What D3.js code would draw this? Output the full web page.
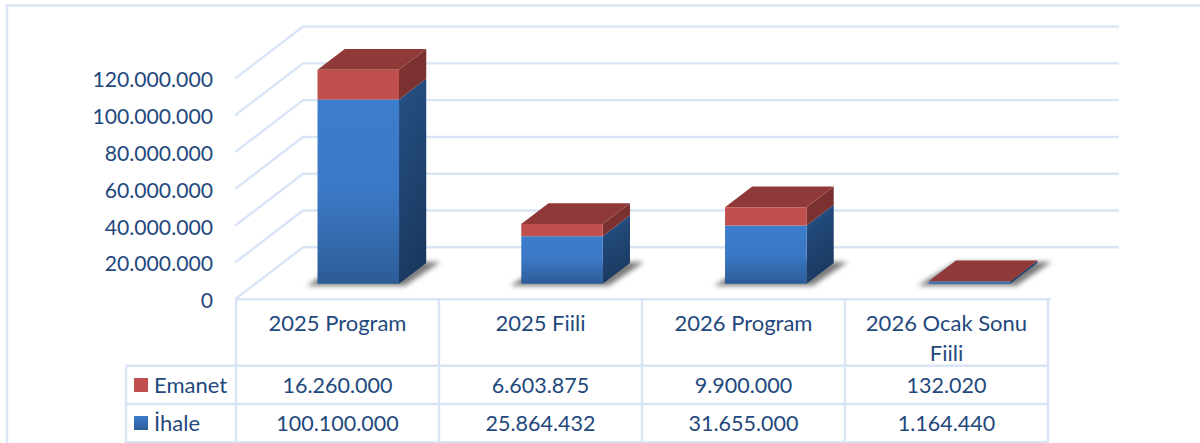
<!DOCTYPE html>
<html>
<head>
<meta charset="utf-8">
<script src="https://cdn.jsdelivr.net/npm/d3@7"></script>
<style>
html, body { margin: 0; padding: 0; background: #fff; overflow: hidden; }
text { font-family: Lato, sans-serif; fill: #1f497d; }
</style>
</head>
<body>
<div id="chart"></div>
<script>
var categories = [["2025 Program"], ["2025 Fiili"], ["2026 Program"], ["2026 Ocak Sonu", "Fiili"]];
var emanet = [16260000, 6603875, 9900000, 132020];
var ihale = [100100000, 25864432, 31655000, 1164440];
var yTicks = [0, 20000000, 40000000, 60000000, 80000000, 100000000, 120000000];

var w = 1200;
var h = 443;
var gridColor = "#d9e5f6";

// layout of the 3d box
var left = 236, right = 1051, tableRight = 1048, floorY = 299.3, topY = 78.6;
var depthX = 68, depthY = 52;

var svg = d3.select("#chart")
    .append("svg")
    .attr("width", w)
    .attr("height", h);

var fmt = d3.formatLocale({ decimal: ",", thousands: ".", grouping: [3], currency: ["", ""] }).format(",d");

// bars sit on the floor, the table below is a little narrower
var xscale = d3.scaleBand()
    .domain(d3.range(categories.length))
    .range([left, right]);

var tablescale = d3.scaleBand()
    .domain(d3.range(categories.length))
    .range([left, tableRight]);

var yscale = d3.scaleLinear()
    .domain([0, 120000000])
    .range([floorY, topY]);

// cx = share of band across, v = value, dz = share of depth
function pt(i, cx, v, dz) {
    return [xscale(i) + cx * xscale.bandwidth() + dz * depthX, yscale(v) - dz * depthY];
}
function poly(points) {
    return points.map(function (p) { return p[0] + "," + p[1]; }).join(" ");
}

var defs = svg.append("defs");

function gradient(id, x2, y2, stops) {
    var g = defs.append("linearGradient").attr("id", id)
        .attr("x1", 0).attr("y1", 0).attr("x2", x2).attr("y2", y2);
    stops.forEach(function (s, k) {
        g.append("stop").attr("offset", k / (stops.length - 1)).attr("stop-color", s);
    });
}
gradient("blueFront", 0, 1, ["#3d7dcd", "#3b78c5", "#2c5c97"]);
gradient("blueSide", 0.3, 1, ["#265286", "#1a3960"]);
gradient("swatchBlue", 0, 1, ["#3d7dcd", "#2c5c97"]);

defs.append("filter").attr("id", "soft")
    .attr("x", "-30%").attr("y", "-50%").attr("width", "160%").attr("height", "200%")
    .append("feGaussianBlur").attr("stdDeviation", 2.8);

// outer frame
svg.append("path")
    .attr("d", "M7,443V5.5H1200")
    .attr("fill", "none")
    .attr("stroke", gridColor)
    .attr("stroke-width", 2.4);

// gridlines, back wall and side wall
var grid = svg.append("g").attr("stroke", gridColor).attr("stroke-width", 2.4).attr("fill", "none");
yTicks.forEach(function (t) {
    var y = yscale(t);
    grid.append("polyline")
        .attr("points", poly([[left - 1, y], [left - 1 + depthX, y - depthY], [1119, y - depthY]]));
});

// y axis
var yaxis = d3.axisLeft(yscale)
    .tickValues(yTicks)
    .tickFormat(fmt)
    .tickSize(0)
    .tickPadding(0);
var yG = svg.append("g")
    .attr("transform", "translate(213,1.5)")
    .call(yaxis);
yG.select(".domain").remove();
yG.selectAll("text").attr("font-size", 21.2).style("font-family", "Lato, sans-serif").attr("fill", "#1f497d");

// bars
var x0 = 0.3, x1 = 0.7, z0 = 0.3, z1 = 0.7;
categories.forEach(function (c, i) {
    var g = svg.append("g");
    var b = ihale[i], t = ihale[i] + emanet[i];

    // shadow on the floor
    g.append("polygon")
        .attr("points", poly([
            [pt(i, x0, 0, z0)[0] - 11, pt(i, x0, 0, z0)[1] + 2],
            [pt(i, x1, 0, z0)[0] + 6, pt(i, x1, 0, z0)[1] + 2],
            [pt(i, x1, 0, z1)[0] + 14, pt(i, x1, 0, z1)[1] - 1],
            [pt(i, x0, 0, z1)[0], pt(i, x0, 0, z1)[1] - 1]
        ]))
        .attr("fill", "#444")
        .attr("opacity", 0.7)
        .attr("filter", "url(#soft)");

    // side faces
    g.append("polygon")
        .attr("points", poly([pt(i, x1, 0, z0), pt(i, x1, 0, z1), pt(i, x1, b, z1), pt(i, x1, b, z0)]))
        .attr("fill", "url(#blueSide)");
    g.append("polygon")
        .attr("points", poly([pt(i, x1, b, z0), pt(i, x1, b, z1), pt(i, x1, t, z1), pt(i, x1, t, z0)]))
        .attr("fill", "#7b3130");

    // top
    g.append("polygon")
        .attr("points", poly([pt(i, x0, t, z0), pt(i, x1, t, z0), pt(i, x1, t, z1), pt(i, x0, t, z1)]))
        .attr("fill", "#8f3a39");

    // front faces
    g.append("polygon")
        .attr("points", poly([pt(i, x0, 0, z0), pt(i, x1, 0, z0), pt(i, x1, b, z0), pt(i, x0, b, z0)]))
        .attr("fill", "url(#blueFront)");
    g.append("polygon")
        .attr("points", poly([pt(i, x0, b, z0), pt(i, x1, b, z0), pt(i, x1, t, z0), pt(i, x0, t, z0)]))
        .attr("fill", "#c0504d");
});

// data table
var rowTop = 365.7, rowMid = 404, rowBot = 442.3, keyLeft = 126;
var table = svg.append("g").attr("stroke", gridColor).attr("stroke-width", 2.4);
table.append("line").attr("x1", left - 1).attr("x2", right).attr("y1", floorY).attr("y2", floorY);
[rowTop, rowMid, rowBot].forEach(function (y) {
    table.append("line").attr("x1", keyLeft).attr("x2", tableRight).attr("y1", y).attr("y2", y);
});
d3.range(categories.length + 1).forEach(function (i) {
    var x = left + i * tablescale.bandwidth();
    table.append("line").attr("x1", x).attr("x2", x).attr("y1", floorY).attr("y2", h);
});
table.append("line").attr("x1", keyLeft).attr("x2", keyLeft).attr("y1", rowTop).attr("y2", h);

function cell(x, y, txt, size, anchor) {
    svg.append("text")
        .attr("x", x).attr("y", y)
        .attr("text-anchor", anchor || "middle")
        .attr("dominant-baseline", "central")
        .attr("font-size", size)
        .text(txt);
}

categories.forEach(function (c, i) {
    var cx = tablescale(i) + tablescale.bandwidth() / 2;
    c.forEach(function (line, k) {
        cell(cx, 322 + k * 30, line, 22);
    });
    cell(cx, 384.5, fmt(emanet[i]), 21.5);
    cell(cx, 422.5, fmt(ihale[i]), 21.5);
});

// legend keys
svg.append("rect").attr("x", 134).attr("y", 378).attr("width", 14).attr("height", 14).attr("fill", "#c0504d");
svg.append("rect").attr("x", 134).attr("y", 416).attr("width", 14).attr("height", 14).attr("fill", "url(#swatchBlue)");
cell(154, 384, "Emanet", 22, "start");
cell(154, 422.5, "İhale", 22, "start");
</script>
</body>
</html>
